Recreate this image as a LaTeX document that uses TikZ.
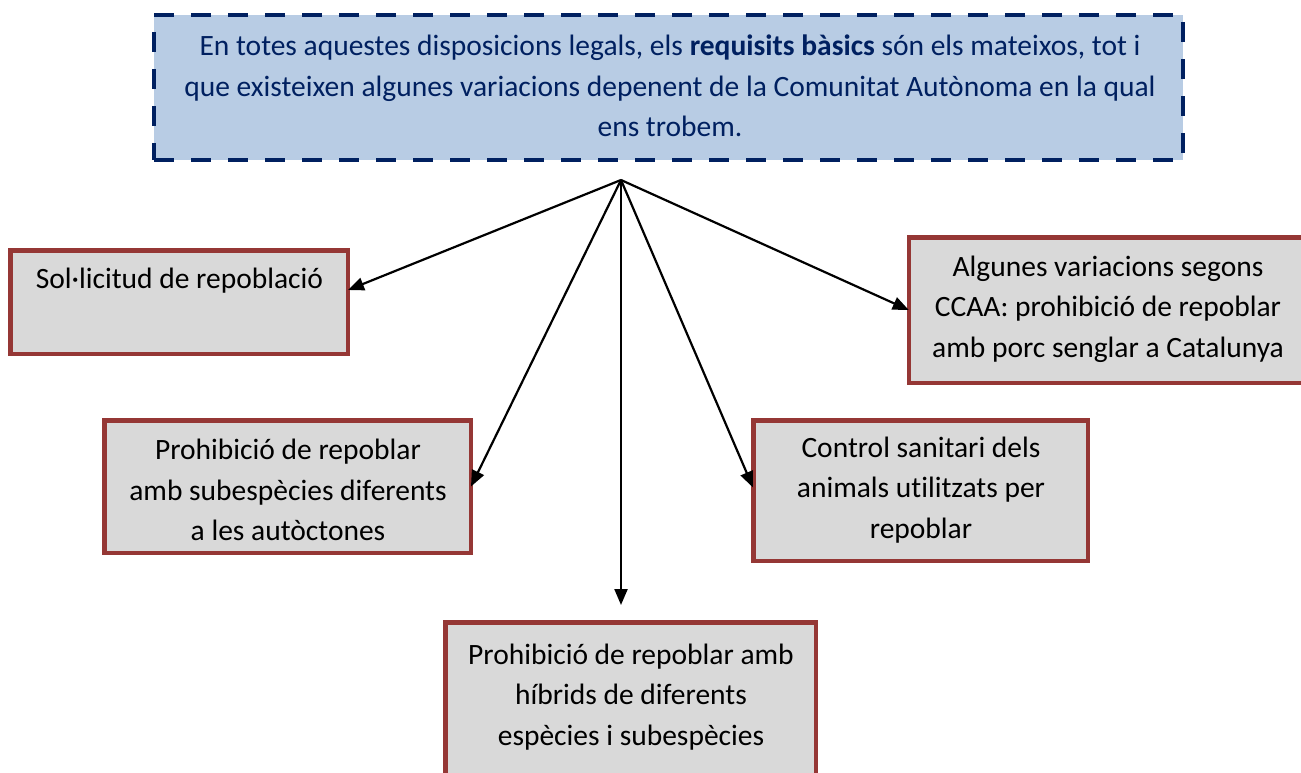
\documentclass[tikz,border=0pt]{standalone}
\usepackage{fontspec}
\setmainfont[Ligatures=NoCommon]{Carlito}
\usetikzlibrary{arrows.meta}
\definecolor{navy}{HTML}{002060}
\definecolor{lightblue}{HTML}{B8CCE4}
\definecolor{boxred}{HTML}{953735}
\definecolor{boxgray}{HTML}{D9D9D9}
\tikzset{
  topbox/.style={draw=navy, fill=lightblue, line width=4pt, dash pattern=on 20pt off 17pt, inner sep=0pt},
  graybox/.style={draw=boxred, fill=boxgray, line width=4.5pt, inner sep=0pt},
  boxtext/.style={align=center, inner sep=0pt, font=\fontsize{29.5}{40.5}\selectfont, text=black},
  toptext/.style={align=center, inner sep=0pt, font=\fontsize{29.5}{40.5}\selectfont, text=navy},
  conn/.style={line width=2.2pt, -{Triangle[length=16pt,width=13pt]}}
}
\begin{document}
\begin{tikzpicture}[x=1pt,y=-1pt]
\useasboundingbox (0,0) rectangle (1301,773);
\clip (0,0) rectangle (1301,773);
\fill[white] (0,0) rectangle (1301,773);
% top box
\node[topbox, minimum width=1029pt, minimum height=145pt] (top) at (668.5,87.5) {};
\node[toptext] (toptxt) at (670,86) {En totes aquestes disposicions legals, els \textbf{requisits bàsics} són els mateixos, tot i\\que existeixen algunes variacions depenent de la Comunitat Autònoma en la qual\\ens trobem.};
\coordinate (apex) at (621,180);
% boxes
\node[graybox, minimum width=337.5pt, minimum height=103.5pt] (s1) at (179,302) {};
\node[boxtext] (s1t) at (179.5,281) {Sol·licitud de repoblació};
\node[graybox, minimum width=400pt, minimum height=145.5pt] (r1) at (1109,310) {};
\node[boxtext] (r1t) at (1108,309) {Algunes variacions segons\\CCAA: prohibició de repoblar\\amb porc senglar a Catalunya};
\node[graybox, minimum width=366.5pt, minimum height=132.5pt] (s2) at (287.5,486.5) {};
\node[boxtext] (s2t) at (288,490) {Prohibició de repoblar\\amb subespècies diferents\\a les autòctones};
\node[graybox, minimum width=334.5pt, minimum height=140.5pt] (c1) at (920.5,490.5) {};
\node[boxtext] (c1t) at (921,490) {Control sanitari dels\\animals utilitzats per\\repoblar};
\node[graybox, minimum width=370.5pt, minimum height=175pt] (b1) at (630.5,710) {};
\node[boxtext] (b1t) at (631,697) {Prohibició de repoblar amb\\híbrids de diferents\\espècies i subespècies};
\coordinate (b1tip) at (621,605);
% connectors
\draw[conn] (apex) -- ([yshift=12pt,xshift=-2pt]s1.east);
\draw[conn] (apex) -- ([xshift=2pt]r1.west);
\draw[conn] (apex) -- ([xshift=-2pt]s2.east);
\draw[conn] (apex) -- ([xshift=2pt,yshift=3pt]c1.west);
\draw[conn] (apex) -- (b1tip);
\end{tikzpicture}
\end{document}
